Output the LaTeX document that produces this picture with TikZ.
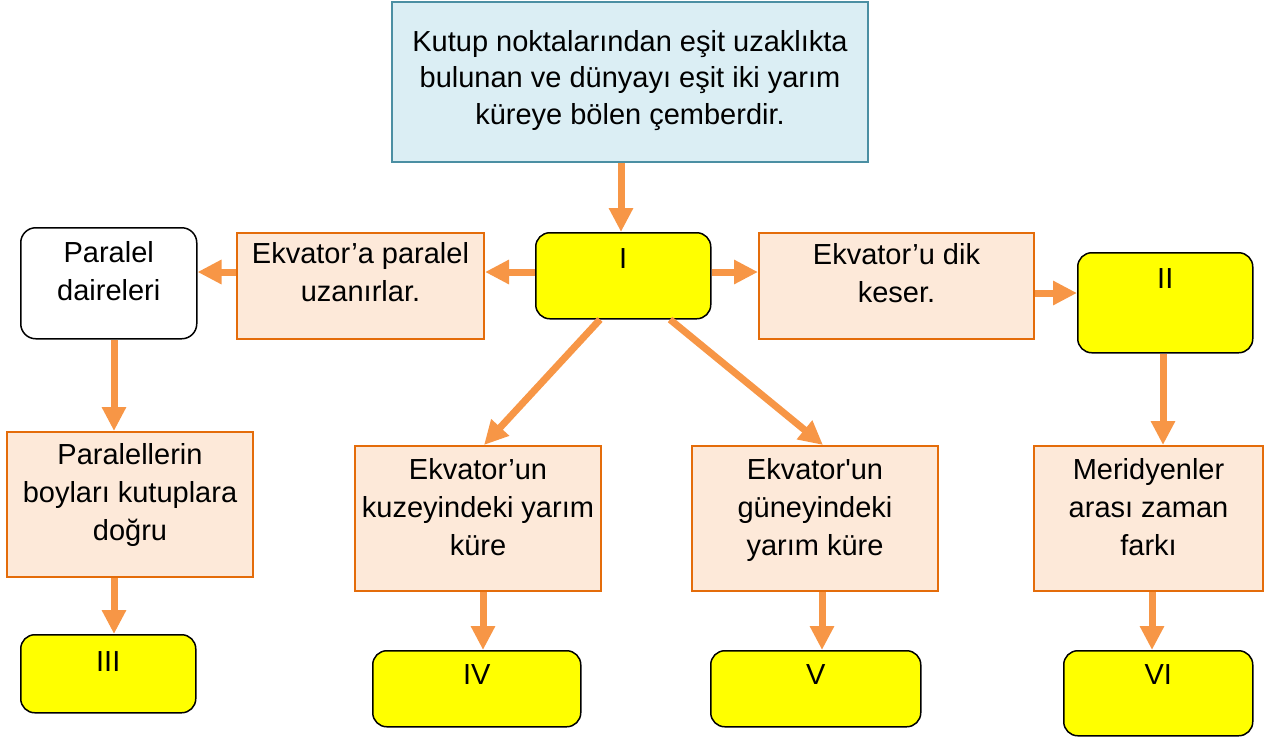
\documentclass[tikz,border=0pt]{standalone}
\usepackage{fontspec}
\setmainfont{Liberation Sans}[Ligatures=TeXOff]
\usetikzlibrary{arrows.meta}
\definecolor{arrc}{HTML}{F79646}
\definecolor{peach}{HTML}{FDE9D9}
\definecolor{peachb}{HTML}{E46C0A}
\definecolor{skyf}{HTML}{DBEEF4}
\definecolor{skyb}{HTML}{4B8FA3}
\definecolor{yel}{HTML}{FFFF00}
% #1 name, #2 style, #3 x1, #4 y1, #5 x2, #6 y2, #7 first baseline offset, #8 text
\newcommand\bx[8]{%
  \pgfmathsetmacro\bw{#5-#3}%
  \pgfmathsetmacro\bh{#6-#4}%
  \node[#2, anchor=north west, inner sep=0pt, minimum width=\bw pt, minimum height=\bh pt] (#1) at (#3,#4)
    {\parbox[t][\bh pt][t]{\bw pt}{\centering\rule{0pt}{#7pt}#8\par}};%
}
\begin{document}
\begin{tikzpicture}[x=1pt,y=-1pt,
  every node/.style={font=\fontsize{29}{38}\selectfont},
  pbox/.style={draw=peachb, fill=peach, line width=2pt},
  ybox/.style={draw=black, fill=yel, line width=1.5pt, rounded corners=14pt},
  wbox/.style={draw=black, fill=white, line width=1.5pt, rounded corners=15pt},
  tbox/.style={draw=skyb, fill=skyf, line width=2pt, font=\fontsize{29}{36.5}\selectfont},
  arr/.style={draw=arrc, line width=7pt, -{Triangle[width=23pt,length=24pt]}}]
\useasboundingbox (0,0) rectangle (1268,740);

\bx{top}{tbox}{391}{1}{867}{161}{49}{Kutup noktalarından eşit uzaklıkta\\bulunan ve dünyayı eşit iki yarım\\küreye bölen çemberdir.}
\bx{I}{ybox}{535}{232}{710}{318}{36}{I}
\bx{EA}{pbox}{236}{232}{483}{338}{30}{Ekvator’a paralel\\uzanırlar.}
\bx{PD}{wbox}{20}{227}{196}{338}{35}{Paralel\\daireleri}
\bx{EU}{pbox}{758}{232}{1033}{338}{31}{Ekvator’u dik\\keser.}
\bx{II}{ybox}{1077}{252}{1252}{352}{36}{II}
\bx{PL}{pbox}{6}{431}{252}{576}{32}{Paralellerin\\boyları kutuplara\\doğru}
\bx{EK}{pbox}{354}{445}{600}{590}{33}{Ekvator’un\\kuzeyindeki yarım\\küre}
\bx{EG}{pbox}{691}{445}{937}{590}{33}{Ekvator'un\\güneyindeki\\yarım küre}
\bx{MR}{pbox}{1033}{445}{1262}{590}{33}{Meridyenler\\arası zaman\\farkı}
\bx{III}{ybox}{20}{634}{195}{712}{37}{III}
\bx{IV}{ybox}{372}{650}{580}{726}{34}{IV}
\bx{V}{ybox}{710}{650}{920}{726}{34}{V}
\bx{VI}{ybox}{1063}{650}{1252}{735}{34}{VI}

\draw[arr] (621,0 |- top.south) -- (621,0 |- I.north);
\draw[arr] (I.west |- 0,272) -- (EA.east |- 0,272);
\draw[arr] (EA.west |- 0,272) -- (PD.east |- 0,272);
\draw[arr] (114,0 |- PD.south) -- (114,0 |- PL.north);
\draw[arr] (114,0 |- PL.south) -- (114,0 |- III.north);
\draw[arr] (I.east |- 0,272) -- (EU.west |- 0,272);
\draw[arr] (EU.east |- 0,293) -- (II.west |- 0,293);
\draw[arr] (1163,0 |- II.south) -- (1163,0 |- MR.north);
\draw[arr] (1152,0 |- MR.south) -- (1152,0 |- VI.north);
\draw[arr] (600,0 |- I.south) -- (484,0 |- EK.north);
\draw[arr] (670,0 |- I.south) -- (823,0 |- EG.north);
\draw[arr] (483,0 |- EK.south) -- (483,0 |- IV.north);
\draw[arr] (822,0 |- EG.south) -- (822,0 |- V.north);
\end{tikzpicture}
\end{document}
